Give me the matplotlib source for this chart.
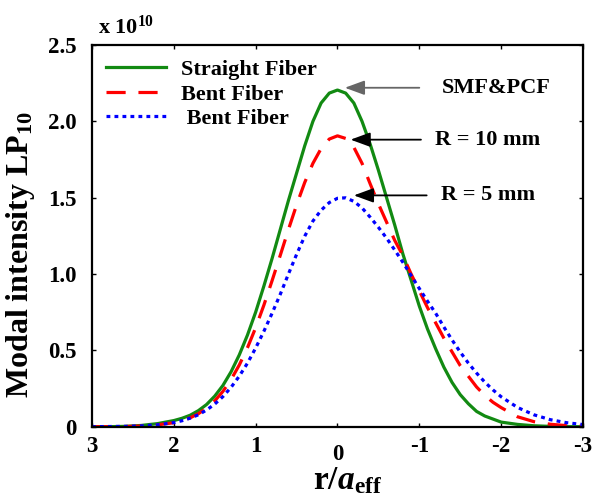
import numpy as np
import matplotlib
matplotlib.use('Agg')
import matplotlib.pyplot as plt

plt.rcParams['font.family'] = ['Liberation Serif', 'DejaVu Serif']
plt.rcParams['font.weight'] = 'bold'
plt.rcParams['mathtext.fontset'] = 'custom'
plt.rcParams['mathtext.rm'] = 'Liberation Serif:bold'
plt.rcParams['mathtext.bf'] = 'Liberation Serif:bold'
plt.rcParams['mathtext.it'] = 'Liberation Serif:italic:bold'
plt.rcParams['mathtext.bfit'] = 'Liberation Serif:italic:bold'

# r / a_eff (axis runs from 3 down to -3)
r = [3.0, 2.8, 2.6, 2.4, 2.2,
     2.0, 1.9, 1.8, 1.7, 1.6, 1.5, 1.4, 1.3, 1.2, 1.1,
     1.0, 0.9, 0.8, 0.7, 0.6, 0.5, 0.4, 0.3, 0.2, 0.1,
     0.0,
     -0.1, -0.2, -0.3, -0.4, -0.5, -0.6, -0.7, -0.8, -0.9, -1.0,
     -1.1, -1.2, -1.3, -1.4, -1.5, -1.6, -1.7, -1.8, -1.9, -2.0,
     -2.2, -2.4, -2.6, -2.8, -3.0]

# modal intensity, units of 1e10
straight = [0, 0, 0.002, 0.008, 0.02,
            0.04, 0.055, 0.075, 0.105, 0.145, 0.20, 0.27, 0.36, 0.47, 0.60,
            0.75, 0.92, 1.10, 1.29, 1.48, 1.66, 1.84, 2.00, 2.12, 2.185,
            2.205,
            2.185, 2.12, 2.00, 1.85, 1.68, 1.50, 1.32, 1.13, 0.96, 0.79,
            0.64, 0.51, 0.39, 0.29, 0.21, 0.15, 0.10, 0.07, 0.05, 0.03,
            0.015, 0.006, 0.002, 0, 0]

bent10 = [0, 0, 0.001, 0.004, 0.012,
          0.026, 0.040, 0.058, 0.085, 0.121, 0.169, 0.231, 0.309, 0.404, 0.517,
          0.648, 0.795, 0.955, 1.121, 1.290, 1.452, 1.600, 1.725, 1.822, 1.884,
          1.905,
          1.888, 1.83, 1.725, 1.59, 1.46, 1.34, 1.22, 1.12, 1.00, 0.89,
          0.78, 0.68, 0.58, 0.49, 0.40, 0.33, 0.26, 0.205, 0.16, 0.125,
          0.065, 0.033, 0.016, 0.007, 0.003]

bent5 = [0, 0.001, 0.002, 0.005, 0.012,
         0.027, 0.039, 0.056, 0.078, 0.109, 0.148, 0.197, 0.258, 0.331, 0.416,
         0.515, 0.624, 0.742, 0.866, 0.999, 1.128, 1.248, 1.347, 1.418, 1.468,
         1.496,
         1.499, 1.476, 1.433, 1.372, 1.306, 1.235, 1.157, 1.076, 0.990, 0.905,
         0.822, 0.743, 0.653, 0.568, 0.489, 0.416, 0.351, 0.292, 0.241, 0.196,
         0.126, 0.078, 0.046, 0.026, 0.014]

labels = ['Straight Fiber', 'Bent Fiber', ' Bent Fiber']
notes = ['SMF&PCF', 'R = 10 mm', 'R = 5 mm']
note_tip = [(-0.09, 2.22), (-0.16, 1.88), (-0.20, 1.515)]
note_tail = [-1.0, -1.02, -1.09]
note_x = [-1.28, -1.19, -1.27]

xticks = [3, 2, 1, 0, -1, -2, -3]
yticks = [0, 0.5, 1.0, 1.5, 2.0, 2.5]
ytick_labels = ['0', '0.5', '1.0', '1.5', '2.0', '2.5']

fig = plt.figure(figsize=(5.93, 5.04), dpi=100)
ax = fig.add_axes([0.1551, 0.1534, 0.828, 0.7573])

ax.plot(r, straight, color='#128a12', lw=2.3, label=labels[0])
ax.plot(r, bent10, color='#ff0000', lw=2.3, dashes=(6, 4), label=labels[1])
ax.plot(r, bent5, color='#0000ff', lw=2.3, dashes=(1.2, 1.3), label=labels[2])

arrow_cols = ['#666666', 'black', 'black']
for txt, tip, tail, tx, c in zip(notes, note_tip, note_tail, note_x, arrow_cols):
    ax.annotate('', xy=tip, xytext=(tail, tip[1]),
                arrowprops=dict(arrowstyle='-|>,head_length=0.6,head_width=0.22',
                                color=c, lw=1.3, mutation_scale=20,
                                shrinkA=0, shrinkB=0))
    ax.text(tx, tip[1], txt, fontsize=16, fontweight='bold',
            ha='left', va='center')

ax.set_xlim(3, -3)
ax.set_ylim(0, 2.5)
ax.set_xticks(xticks)
ax.set_xticklabels([str(t) for t in xticks])
ax.set_yticks(yticks)
ax.set_yticklabels(ytick_labels)
ax.tick_params(direction='in', length=3, width=1, top=True, right=True,
               labelsize=16.5)
ax.tick_params(axis='x', pad=7)
ax.tick_params(axis='y', pad=11)
for s in ax.spines.values():
    s.set_linewidth(1.6)

# the "0" label sits a bit lower in the original
for tick in ax.xaxis.get_major_ticks():
    if tick.label1.get_text() == '0':
        tick.label1.set_y(-0.02)

ax.text(0.012, 1.015, r'x 10$^{\mathrm{10}}$', transform=ax.transAxes,
        fontsize=16, fontweight='bold', ha='left', va='bottom')

ax.set_ylabel(r'Modal intensity LP$_{10}$', fontsize=23, fontweight='bold')
ax.yaxis.set_label_coords(-0.112, 0.452)
ax.set_xlabel(r'r/$\mathbfit{a}_{\mathrm{eff}}$', fontsize=24, fontweight='bold')
ax.xaxis.set_label_coords(0.52, -0.1)

ax.legend(loc='upper left', bbox_to_anchor=(0.028, 0.962), frameon=False,
          fontsize=16, handlelength=2.7, handletextpad=0.7, labelspacing=0.18,
          borderpad=0, borderaxespad=0)

fig.savefig('out.png', dpi=100)
